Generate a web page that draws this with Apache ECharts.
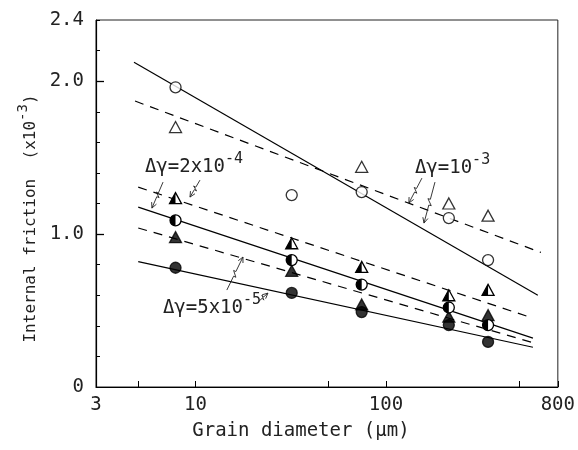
<!DOCTYPE html>
<html>
<head>
<meta charset="utf-8">
<script src="https://cdn.jsdelivr.net/npm/echarts@6/dist/echarts.min.js"></script>
<style>
  html, body { margin: 0; padding: 0; background: #fff; }
  #grainCharts { width: 578px; height: 450px; }
</style>
</head>
<body>
<div id="grainCharts"></div>
<script>
    // grain diameter of the five specimens (um)
    const grainSize = [7.85, 32, 74.6, 214, 344]
    // internal friction (x10^-3)
    const openCircle = [1.96, 1.255, 1.275, 1.105, 0.83]
    const openTriangle = [1.70, null, 1.44, 1.20, 1.12]
    const halfTriangle = [1.235, 0.94, 0.785, 0.60, 0.635]
    const halfCircle = [1.09, 0.83, 0.67, 0.52, 0.405]
    const filledTriangle = [0.98, 0.76, 0.54, 0.46, 0.47]
    const filledCircle = [0.78, 0.615, 0.49, 0.405, 0.295]

    // fitted lines: ends in grain size and value
    const fitHighSolidX = [4.75, 628]
    const fitHighSolidY = [2.124, 0.60]
    const fitHighDashX = [4.81, 652]
    const fitHighDashY = [1.87, 0.88]
    const fitLowX = [5.0, 592]
    const fitMidDashY = [1.307, 0.45]
    const fitMidSolidY = [1.176, 0.32]
    const fitLowDashY = [1.04, 0.29]
    const fitLowSolidY = [0.82, 0.26]

    // axis ticks
    const xTickValues = [3, 5, 10, 50, 100, 500, 800]
    const xLabelValues = [3, 10, 100, 800]
    const yTickValues = [0, 0.2, 0.4, 0.6, 0.8, 1.0, 1.2, 1.4, 1.6, 1.8, 2.0, 2.2, 2.4]
    const yMajorTicks = [1.0, 2.0]
    const yLabelValues = [0, 1.0, 2.0, 2.4]

    // annotations (grain size, value)
    const notes = [
        {text: 'Δγ=2x10', sup: '-4', at: [5.42, 1.438]},
        {text: 'Δγ=10', sup: '-3', at: [142, 1.431]},
        {text: 'Δγ=5x10', sup: '-5', at: [6.74, 0.516]},
    ]
    const arrows = [
        {from: [6.75, 1.340], to: [5.90, 1.170]},
        {from: [10.55, 1.353], to: [9.35, 1.242]},
        {from: [154.6, 1.366], to: [132, 1.203]},
        {from: [181, 1.340], to: [158.5, 1.072]},
        {from: [14.6, 0.634], to: [17.75, 0.850]},
        {from: [21.3, 0.556], to: [24.0, 0.614]},
    ]

    const lg = Math.log10
    const pts = vals => grainSize.map((g, i) => [lg(g), vals[i]]).filter(p => p[1] != null)
    const seg = (xs, ys) => xs.map((x, i) => [lg(x), ys[i]])

    const FONT = 'DejaVu Sans Mono'
    const INK = '#222'

    function fitLine(data, dashed) {
        return {
            type: 'line', data: data, symbol: 'none', z: 2, silent: true,
            lineStyle: {color: '#000', width: 1.2, type: dashed ? [9, 7] : 'solid'}
        }
    }

    function scatter(data, symbol, filled) {
        return {
            type: 'scatter', data: data, symbol: symbol, z: 5,
            symbolSize: symbol === 'triangle' ? [12, 11] : 11,
            itemStyle: {color: filled ? '#000' : '#fff', borderColor: '#000', borderWidth: 1.3}
        }
    }

    function halfMarker(data, kind) {
        return {
            type: 'custom', data: data, z: 6,
            renderItem(params, api) {
                const p = api.coord([api.value(0), api.value(1)])
                const cx = p[0], cy = p[1]
                if (kind === 'circle') {
                    const r = 5.5
                    return {type: 'group', children: [
                        {type: 'circle', shape: {cx, cy, r}, style: {fill: '#fff', stroke: '#000', lineWidth: 1.3}},
                        {type: 'sector', shape: {cx, cy, r0: 0, r, startAngle: Math.PI / 2, endAngle: Math.PI * 3 / 2, clockwise: true}, style: {fill: '#000'}}
                    ]}
                }
                const w = 12, h = 11
                return {type: 'group', children: [
                    {type: 'polygon', shape: {points: [[cx, cy - h / 2], [cx - w / 2, cy + h / 2], [cx + w / 2, cy + h / 2]]}, style: {fill: '#fff', stroke: '#000', lineWidth: 1.3}},
                    {type: 'polygon', shape: {points: [[cx, cy - h / 2], [cx - w / 2, cy + h / 2], [cx, cy + h / 2]]}, style: {fill: '#000'}}
                ]}
            }
        }
    }

    const option = {
        backgroundColor: '#fff',
        animation: false,
        grid: {left: 96, right: 19, top: 20, bottom: 63, show: true, borderColor: '#222', borderWidth: 1},
        xAxis: {
            type: 'value',
            min: lg(3), max: lg(800),
            name: 'Grain diameter (µm)',
            nameLocation: 'middle', nameGap: 35,
            nameTextStyle: {fontFamily: FONT, fontSize: 19, color: INK, padding: [0, 52, 0, 0]},
            axisLine: {lineStyle: {color: '#000', width: 1.2}},
            axisTick: {inside: true, length: 6, customValues: xTickValues.map(lg), lineStyle: {color: '#000'}},
            axisLabel: {
                customValues: xLabelValues.map(lg), margin: 9,
                fontFamily: FONT, fontSize: 19, color: INK,
                formatter: v => String(Math.round(Math.pow(10, v)))
            },
            splitLine: {show: false}
        },
        yAxis: [
            {
                type: 'value', min: 0, max: 2.4,
                name: '{a|Internal friction  (x10}{s|-3}{a|)}',
                nameLocation: 'middle', nameGap: 46, nameRotate: 90,
                nameTextStyle: {
                    padding: [0, 30, 0, 0],
                    rich: {
                        a: {fontFamily: FONT, fontSize: 16, color: INK},
                        s: {fontFamily: FONT, fontSize: 14, color: INK, padding: [0, 0, 14, 0]}
                    }
                },
                axisLine: {lineStyle: {color: '#000', width: 1.2}},
                axisTick: {inside: true, length: 4, customValues: yTickValues, lineStyle: {color: '#000'}},
                axisLabel: {
                    customValues: yLabelValues, margin: 12,
                    fontFamily: FONT, fontSize: 19, color: INK,
                    formatter: v => v === 0 ? '0' : v.toFixed(1)
                },
                splitLine: {show: false}
            },
            {
                type: 'value', min: 0, max: 2.4, position: 'left',
                axisLine: {show: false},
                axisTick: {show: true, inside: true, length: 8, customValues: yMajorTicks, lineStyle: {color: '#000', width: 1.3}},
                axisLabel: {show: false},
                splitLine: {show: false}
            }
        ],
        series: [
            fitLine(seg(fitHighSolidX, fitHighSolidY), false),
            fitLine(seg(fitHighDashX, fitHighDashY), true),
            fitLine(seg(fitLowX, fitMidDashY), true),
            fitLine(seg(fitLowX, fitMidSolidY), false),
            fitLine(seg(fitLowX, fitLowDashY), true),
            fitLine(seg(fitLowX, fitLowSolidY), false),
            scatter(pts(openCircle), 'circle', false),
            scatter(pts(openTriangle), 'triangle', false),
            halfMarker(pts(halfTriangle), 'triangle'),
            halfMarker(pts(halfCircle), 'circle'),
            scatter(pts(filledTriangle), 'triangle', true),
            scatter(pts(filledCircle), 'circle', true),
        ]
    }

    const chart = echarts.init(document.getElementById('grainCharts'), null, {renderer: 'canvas'})
    chart.setOption(option)

    // annotations placed through the chart's own scales
    const toPx = p => chart.convertToPixel({gridIndex: 0}, [lg(p[0]), p[1]])
    const graphics = []
    notes.forEach(n => {
        const p = toPx(n.at)
        graphics.push({
            type: 'text', x: p[0], y: p[1], z: 10,
            style: {
                text: '{a|' + n.text + '}{s|' + n.sup + '}',
                verticalAlign: 'middle', align: 'left',
                rich: {
                    a: {fontFamily: FONT, fontSize: 19, fill: INK},
                    s: {fontFamily: FONT, fontSize: 15, fill: INK, padding: [0, 0, 16, 0]}
                }
            }
        })
    })
    arrows.forEach(a => {
        const t = toPx(a.from), h = toPx(a.to)
        const dx = h[0] - t[0], dy = h[1] - t[1]
        const L = Math.sqrt(dx * dx + dy * dy)
        const ux = dx / L, uy = dy / L, nx = -uy, ny = ux
        const A = [t[0] + ux * L * 0.42 + nx * 2.5, t[1] + uy * L * 0.42 + ny * 2.5]
        const B = [t[0] + ux * L * 0.56 - nx * 2.5, t[1] + uy * L * 0.56 - ny * 2.5]
        const ang = 0.45, len = 6
        const head1 = [h[0] - len * (ux * Math.cos(ang) - uy * Math.sin(ang)), h[1] - len * (uy * Math.cos(ang) + ux * Math.sin(ang))]
        const head2 = [h[0] - len * (ux * Math.cos(-ang) - uy * Math.sin(-ang)), h[1] - len * (uy * Math.cos(-ang) + ux * Math.sin(-ang))]
        graphics.push({type: 'polyline', z: 10, shape: {points: [t, [t[0] + ux * L * 0.42, t[1] + uy * L * 0.42], A, B, [t[0] + ux * L * 0.56, t[1] + uy * L * 0.56], h]}, style: {stroke: '#222', lineWidth: 0.9, fill: null}})
        graphics.push({type: 'polyline', z: 10, shape: {points: [head1, h, head2]}, style: {stroke: '#222', lineWidth: 0.9, fill: null}})
    })
    chart.setOption({graphic: graphics})

    window.addEventListener('resize', () => chart.resize())
</script>
</body>
</html>
